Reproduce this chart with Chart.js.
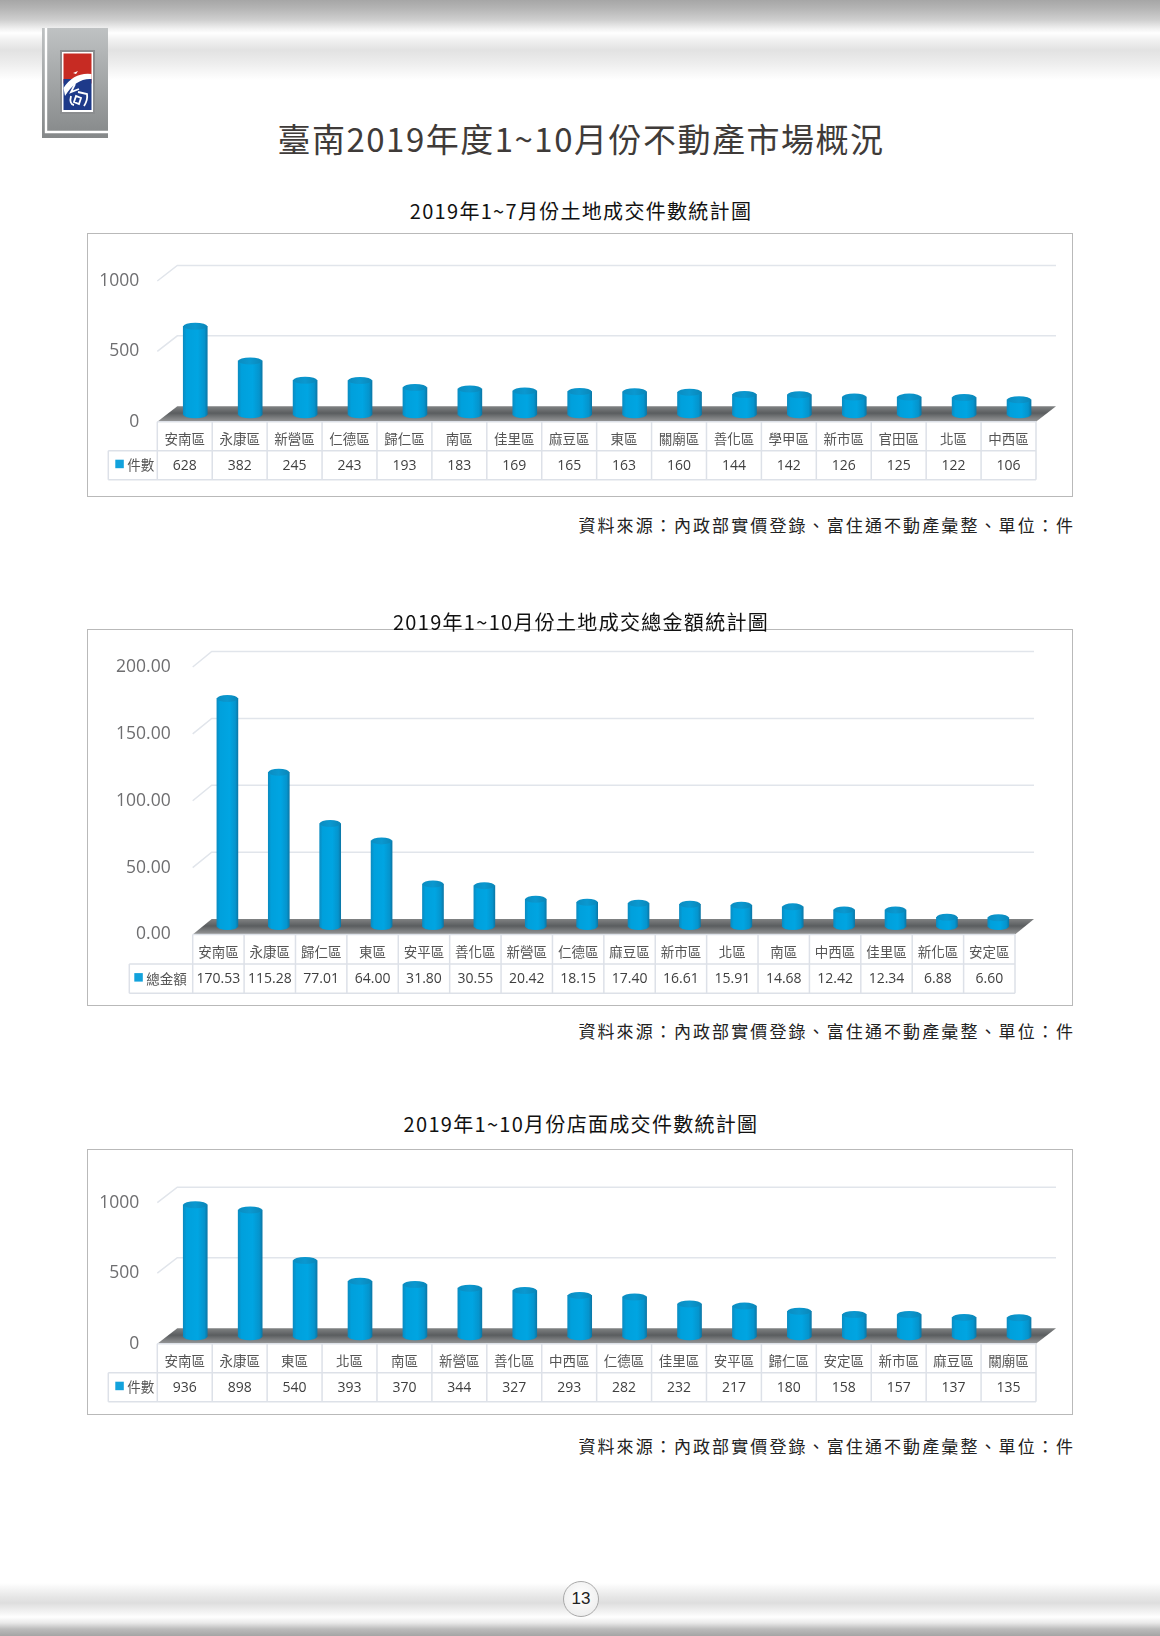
<!DOCTYPE html>
<html lang="zh-Hant">
<head>
<meta charset="utf-8">
<title>臺南2019年度1~10月份不動產市場概況</title>
<script src="https://cdn.jsdelivr.net/npm/chart.js@4/dist/chart.umd.min.js"></script>
<style>
  html, body { margin: 0; padding: 0; background: #fff; }
  body { position: relative; width: 1160px; height: 1636px; overflow: hidden; font-family: "Noto Sans CJK TC", sans-serif; }
  .band { position: absolute; left: 0; width: 1160px; }
  #topBand { top: 0; height: 80px; background: linear-gradient(to bottom, #a6a6a6 0, #b4b4b4 8px, #cfcfcf 20px, #f2f2f2 29px, #fff 33px, #f1f1f1 40px, #e2e2e2 50px, #ececec 62px, #fff 80px); }
  #bottomBand { top: 1583px; height: 53px; background: linear-gradient(to bottom, #fff 0, #e6e6e6 14px, #dedede 20px, #f5f5f5 30px, #fff 34px, #e8e8e8 40px, #bcbcbc 46px, #a4a4a4 53px); }
  #logo { position: absolute; left: 42px; top: 28px; }
  .txt { position: absolute; white-space: nowrap; z-index: 3; }
  .main { left: 581px; top: 138px; transform: translate(-50%, -50%); font-size: 33px; font-weight: 400; color: #3f3b39; letter-spacing: 1.5px; }
  .sub { left: 581px; transform: translate(-50%, -50%); font-size: 20px; font-weight: 400; color: #111; letter-spacing: 1.3px; }
  .src { right: 85px; transform: translateY(-50%); font-size: 17px; font-weight: 400; color: #222; letter-spacing: 2.1px; }
  .frame { position: absolute; left: 87px; width: 986px; box-sizing: border-box; border: 1.5px solid #b9b9b9; background: #fff; }
  .frame canvas { position: absolute; left: -1.5px; top: -1.5px; }
  #pageNo { position: absolute; left: 563px; top: 1581px; width: 36px; height: 36px; box-sizing: border-box; border: 1.5px solid #a9a9a9; border-radius: 50%; background: radial-gradient(circle at 50% 40%, #fff, #e9e9e9); font: 17px "Liberation Sans", sans-serif; color: #222; text-align: center; line-height: 33px; }
</style>
</head>
<body>
<div id="topBand" class="band"></div>
<div id="bottomBand" class="band"></div>

<svg id="logo" width="66" height="110" viewBox="0 0 66 110">
  <defs>
    <linearGradient id="metal" x1="0" y1="0" x2="0" y2="1">
      <stop offset="0" stop-color="#bfc2c3"/><stop offset="1" stop-color="#858889"/>
    </linearGradient>
  </defs>
  <rect x="0" y="0" width="66" height="110" fill="url(#metal)"/>
  <path d="M4 0V104H66" fill="none" stroke="#fff" stroke-width="2.4"/>
  <rect x="18" y="22" width="35" height="64" fill="#8b8d8f"/>
  <rect x="20" y="24" width="31" height="60" fill="#fff"/>
  <rect x="21.5" y="25.5" width="28" height="30" fill="#c72b23"/>
  <rect x="21.5" y="51" width="28" height="31" fill="#1e3a8a"/>
  <path d="M21.5 60Q32 44 49.500 46V51Q34 50 23 68Z" fill="#fff"/>
  <path d="M31 45l5-2-2 3z" fill="#fff"/>
  <path d="M33 56l-4 8 8-3M29 68q-2 8 3 9M36 64l9 2q1 6-3 12M34 68l-2 6 5 2 2-6z" fill="none" stroke="#fff" stroke-width="1.8"/>
</svg>

<div class="txt main">臺南2019年度1~10月份不動產市場概況</div>

<div class="txt sub" style="top:210px">2019年1~7月份土地成交件數統計圖</div>
<div class="frame" style="top:233px;height:264px"><canvas id="chartLand"></canvas></div>
<div class="txt src" style="top:524px">資料來源：內政部實價登錄、富住通不動產彙整、單位：件</div>

<div class="txt sub" style="top:621px">2019年1~10月份土地成交總金額統計圖</div>
<div class="frame" style="top:629px;height:377px"><canvas id="chartAmount"></canvas></div>
<div class="txt src" style="top:1030px">資料來源：內政部實價登錄、富住通不動產彙整、單位：件</div>

<div class="txt sub" style="top:1123px">2019年1~10月份店面成交件數統計圖</div>
<div class="frame" style="top:1149px;height:266px"><canvas id="chartShop"></canvas></div>
<div class="txt src" style="top:1444.500px">資料來源：內政部實價登錄、富住通不動產彙整、單位：件</div>

<div id="pageNo">13</div>

<script>
// ------------------------------
// Data
// ------------------------------
const landCategories = ["安南區", "永康區", "新營區", "仁德區", "歸仁區", "南區", "佳里區", "麻豆區", "東區", "關廟區", "善化區", "學甲區", "新市區", "官田區", "北區", "中西區"];
const landValues = [628, 382, 245, 243, 193, 183, 169, 165, 163, 160, 144, 142, 126, 125, 122, 106];
const landTicks = [0, 500, 1000];

const amountCategories = ["安南區", "永康區", "歸仁區", "東區", "安平區", "善化區", "新營區", "仁德區", "麻豆區", "新市區", "北區", "南區", "中西區", "佳里區", "新化區", "安定區"];
const amountValues = [170.53, 115.28, 77.01, 64.00, 31.80, 30.55, 20.42, 18.15, 17.40, 16.61, 15.91, 14.68, 12.42, 12.34, 6.88, 6.60];
const amountTicks = [0, 50, 100, 150, 200];

const shopCategories = ["安南區", "永康區", "東區", "北區", "南區", "新營區", "善化區", "中西區", "仁德區", "佳里區", "安平區", "歸仁區", "安定區", "新市區", "麻豆區", "關廟區"];
const shopValues = [936, 898, 540, 393, 370, 344, 327, 293, 282, 232, 217, 180, 158, 157, 137, 135];
const shopTicks = [0, 500, 1000];

const CJK = '"Noto Sans CJK TC", sans-serif';
const LATIN = '"Open Sans", sans-serif';
const GRID = "#e1e5eb";
const TABLE = "#dde1e8";

// horizontal shading that makes a flat bar look like a cylinder
function cylinderFill(ctx, cx, half) {
  const g = ctx.createLinearGradient(cx - half, 0, cx + half, 0);
  g.addColorStop(0, "#0a8cc2");
  g.addColorStop(0.14, "#00a0dc");
  g.addColorStop(0.6, "#00a5e2");
  g.addColorStop(0.88, "#0594cd");
  g.addColorStop(1, "#0b78a8");
  return g;
}

// ------------------------------
// 3D look + data table
// ------------------------------
const pseudo3d = {
  id: "pseudo3d",
  beforeDatasetsDraw(chart, args, o) {
    const { ctx, chartArea: a, scales: { y } } = chart;
    ctx.save();
    ctx.strokeStyle = GRID;
    ctx.lineWidth = 1.5;
    y.ticks.forEach(t => {
      if (t.value === 0) return;
      const py = y.getPixelForValue(t.value);
      ctx.beginPath();
      ctx.moveTo(a.left, py);
      ctx.lineTo(a.left + o.depthX, py - o.depthY);
      ctx.lineTo(a.right + o.depthX, py - o.depthY);
      ctx.stroke();
    });
    // floor
    const y0 = y.getPixelForValue(0);
    const floor = ctx.createLinearGradient(0, y0 - o.depthY, 0, y0);
    floor.addColorStop(0, "#808283");
    floor.addColorStop(0.45, "#5a5d5f");
    floor.addColorStop(1, "#98999a");
    ctx.fillStyle = floor;
    ctx.beginPath();
    ctx.moveTo(a.left, y0);
    ctx.lineTo(a.left + o.depthX, y0 - o.depthY);
    ctx.lineTo(a.right + o.depthX, y0 - o.depthY);
    ctx.lineTo(a.right, y0);
    ctx.closePath();
    ctx.fill();
    ctx.restore();
  },
  beforeDatasetDraw(chart, args, o) {
    const { ctx } = chart;
    ctx.save();
    ctx.translate(o.barX, -o.barY);
    args.meta.data.forEach(bar => {
      const half = bar.width / 2;
      ctx.fillStyle = cylinderFill(ctx, bar.x, half);
      ctx.beginPath();
      ctx.ellipse(bar.x, bar.base, half, o.capY, 0, 0, Math.PI * 2);
      ctx.fill();
    });
  },
  afterDatasetDraw(chart, args, o) {
    const { ctx } = chart;
    args.meta.data.forEach(bar => {
      const half = bar.width / 2;
      const cap = ctx.createLinearGradient(bar.x - half, 0, bar.x + half, 0);
      cap.addColorStop(0, "#0b8cc0");
      cap.addColorStop(0.5, "#0a98d0");
      cap.addColorStop(1, "#0a86b8");
      ctx.fillStyle = cap;
      ctx.beginPath();
      ctx.ellipse(bar.x, bar.y, half, o.capY, 0, 0, Math.PI * 2);
      ctx.fill();
    });
    ctx.restore();
  },
  afterDraw(chart, args, o) {
    const { ctx, chartArea: a, scales: { x } } = chart;
    const rowH = o.rowH;
    const y0 = a.bottom, y1 = y0 + rowH, y2 = y1 + rowH;
    const left = o.legendLeft;
    const values = chart.data.datasets[0].data;
    const step = x.width / values.length;

    ctx.save();
    ctx.strokeStyle = TABLE;
    ctx.lineWidth = 1.5;
    ctx.beginPath();
    ctx.moveTo(a.left, y0); ctx.lineTo(a.right, y0);
    ctx.moveTo(left, y1); ctx.lineTo(a.right, y1);
    ctx.moveTo(left, y2); ctx.lineTo(a.right, y2);
    ctx.moveTo(left, y1); ctx.lineTo(left, y2);
    for (let i = 0; i <= values.length; i++) {
      const px = a.left + step * i;
      ctx.moveTo(px, y0); ctx.lineTo(px, y2);
    }
    ctx.stroke();

    // value row
    ctx.textAlign = "center";
    ctx.textBaseline = "middle";
    ctx.fillStyle = "#3f3f3f";
    ctx.font = o.valueFont + "px " + LATIN;
    values.forEach((v, i) => {
      ctx.fillText(v.toFixed(o.decimals), x.getPixelForValue(i), y1 + rowH / 2 + 0.5);
    });

    // legend key
    ctx.fillStyle = "#12a2dc";
    ctx.fillRect(left + o.keyX, y1 + rowH / 2 - 5.5, 8.5, 8.5);
    ctx.fillStyle = "#555";
    ctx.font = "13.5px " + CJK;
    ctx.textAlign = "left";
    ctx.fillText(chart.data.datasets[0].label, left + o.keyX + 12, y1 + rowH / 2);
    ctx.restore();
  }
};

// ------------------------------
// Chart builder
// ------------------------------
function drawChart(id, label, labels, values, ticks, decimals, g) {
  const canvas = document.getElementById(id);
  canvas.width = 986;
  canvas.height = g.height;
  canvas.style.width = "986px";
  canvas.style.height = g.height + "px";

  return new Chart(canvas.getContext("2d"), {
    type: "bar",
    plugins: [pseudo3d],
    data: {
      labels: labels,
      datasets: [{
        label: label,
        data: values,
        barThickness: g.barWidth,
        clip: false,
        backgroundColor(c) {
          if (c.dataIndex === undefined) return "#00a2de";
          const cx = c.chart.scales.x.getPixelForValue(c.dataIndex);
          if (!isFinite(cx)) return "#00a2de";
          return cylinderFill(c.chart.ctx, cx, g.barWidth / 2);
        }
      }]
    },
    options: {
      responsive: false,
      animation: false,
      devicePixelRatio: 1,
      layout: { padding: { top: g.top, right: 986 - g.right, bottom: g.height - g.bottom - g.rowH, left: 0 } },
      plugins: {
        legend: { display: false },
        title: { display: false },
        tooltip: { enabled: false },
        pseudo3d: {
          depthX: g.depthX, depthY: g.depthY, barX: g.barX, barY: g.barY, capY: 3.5,
          rowH: g.rowH, legendLeft: g.legendLeft, keyX: g.keyX, valueFont: g.valueFont, decimals: decimals
        }
      },
      scales: {
        x: {
          afterFit(s) { s.height = g.rowH; },
          grid: { display: false, drawTicks: false },
          border: { display: false },
          ticks: {
            autoSkip: false, maxRotation: 0, minRotation: 0, padding: g.labelPad,
            color: "#555", font: { family: CJK, size: 13.5 }
          }
        },
        y: {
          min: ticks[0],
          max: ticks[ticks.length - 1],
          afterBuildTicks(s) { s.ticks = ticks.map(v => ({ value: v })); },
          afterFit(s) { s.width = g.left; },
          grid: { display: false, drawTicks: false },
          border: { display: false },
          ticks: {
            padding: g.tickPad,
            color: "#6e6e70",
            font: { family: LATIN, size: 17.5 },
            callback: v => Number(v).toFixed(decimals)
          }
        }
      }
    }
  });
}

const smallChart = {
  height: 264, left: 70.3, right: 949, top: 48, bottom: 188.7, rowH: 29,
  depthX: 20, depthY: 15.5, barX: 10.5, barY: 7, barWidth: 24,
  legendLeft: 21.3, keyX: 7, valueFont: 14, labelPad: 9, tickPad: 18
};
const tallChart = {
  height: 377, left: 105.7, right: 928, top: 38, bottom: 305.5, rowH: 29.4,
  depthX: 19, depthY: 15.5, barX: 9, barY: 8, barWidth: 21,
  legendLeft: 42.3, keyX: 5, valueFont: 14, labelPad: 9, tickPad: 22
};
const shopChart = Object.assign({}, smallChart, { height: 266, top: 53.7, bottom: 194.7 });

document.fonts.ready.then(() => {
  drawChart("chartLand", "件數", landCategories, landValues, landTicks, 0, smallChart);
  drawChart("chartAmount", "總金額", amountCategories, amountValues, amountTicks, 2, tallChart);
  drawChart("chartShop", "件數", shopCategories, shopValues, shopTicks, 0, shopChart);
});
</script>
</body>
</html>
